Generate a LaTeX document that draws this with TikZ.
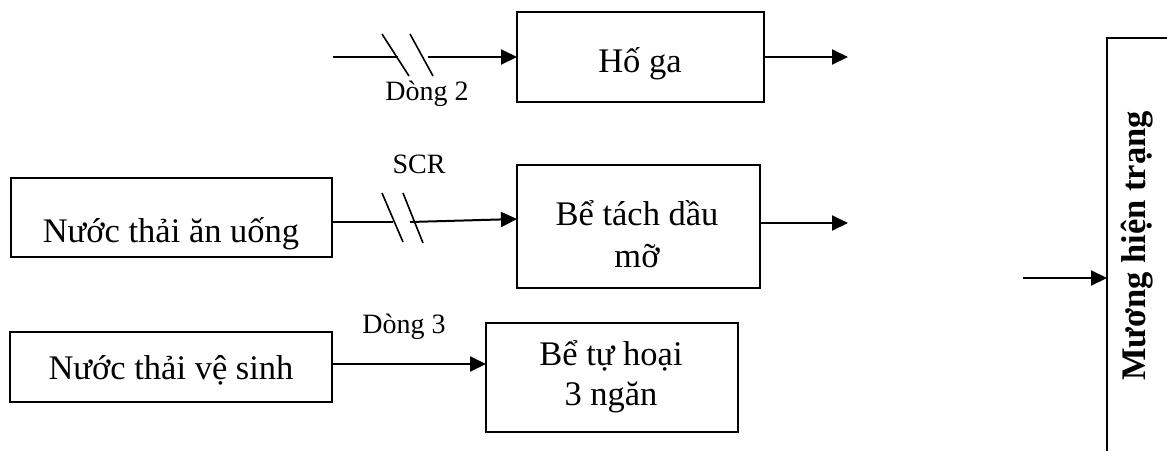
\documentclass[tikz,border=0pt]{standalone}
\usepackage{fontspec}
\setmainfont{Liberation Serif}
\usetikzlibrary{arrows.meta}
\begin{document}
\begin{tikzpicture}[x=1pt,y=-1pt,
 box/.style={draw, line width=2pt, inner sep=0pt, outer sep=0pt},
 txt/.style={inner sep=0pt, font=\fontsize{34.5}{41}\selectfont, anchor=base},
 lbl/.style={inner sep=0pt, font=\fontsize{28}{33}\selectfont, anchor=base},
 conn/.style={line width=2pt},
 arr/.style={conn, -{Triangle[length=16pt,width=15pt]}},
 slashline/.style={line width=1.6pt}]
\useasboundingbox (0,0) rectangle (1167,450);
\clip (0,0) rectangle (1167,450);
% boxes
\node[box, minimum width=247pt, minimum height=90pt] (hoga) at (640.5,57) {};
\node[box, minimum width=243pt, minimum height=123pt] (betach) at (638.5,226.5) {};
\node[box, minimum width=252pt, minimum height=109pt] (tuhoai) at (612,377.5) {};
\node[box, minimum width=321pt, minimum height=79pt] (anuong) at (171.5,217.5) {};
\node[box, minimum width=322pt, minimum height=70pt] (vesinh) at (171,367) {};
\node[box, minimum width=140pt, minimum height=500pt, anchor=north west] (muong) at (1107,38) {};
% texts
\node[txt] (hogaT) at (640,72) {Hố ga};
\node[txt] (betachT1) at (637,225) {Bể tách dầu};
\node[txt] (betachT2) at (637,267) {mỡ};
\node[txt] (tuhoaiT1) at (611,365) {Bể tự hoại};
\node[txt] (tuhoaiT2) at (611,405) {3 ngăn};
\node[txt] (anuongT) at (171,242) {Nước thải ăn uống};
\node[txt] (vesinhT) at (171,379) {Nước thải vệ sinh};
\node[lbl] (dong2) at (427,100) {Dòng 2};
\node[lbl] (scr) at (419,173) {SCR};
\node[lbl] (dong3) at (404,333) {Dòng 3};
\node[txt, font=\fontsize{34.5}{40}\selectfont\bfseries, rotate=90] (muongT) at (1145,246) {Mương hiện trạng};
% Dong 2 -> Ho ga
\coordinate (in2) at (333,57);
\coordinate (g2a) at (398,57);
\coordinate (g2b) at (428,57);
\draw[conn] (in2) -- (g2a);
\draw[arr] (g2b) -- (hoga.west);
\draw[slashline] (382,34) -- (409,76);
\draw[slashline] (410,34) -- (433,76);
\draw[arr] (hoga.east) -- ++(84,0) coordinate (hogaOut);
% An uong -> Be tach
\coordinate (g1a) at (393,222);
\coordinate (g1b) at (410,222);
\draw[conn] (anuong.east |- g1a) -- (g1a);
\draw[arr] (g1b) -- ([yshift=7.5pt]betach.west);
\draw[slashline] (382,193) -- (403,242);
\draw[slashline] (403,193) -- (423,243);
\draw[arr] ([yshift=3.5pt]betach.east) -- ++(88,0) coordinate (betachOut);
% Ve sinh -> Tu hoai
\draw[arr] ([yshift=3pt]vesinh.east) coordinate (vs) -- (vs -| tuhoai.west);
% -> Muong
\coordinate (minS) at (1023,278);
\draw[arr] (minS) -- (minS -| muong.west);
\end{tikzpicture}
\end{document}
